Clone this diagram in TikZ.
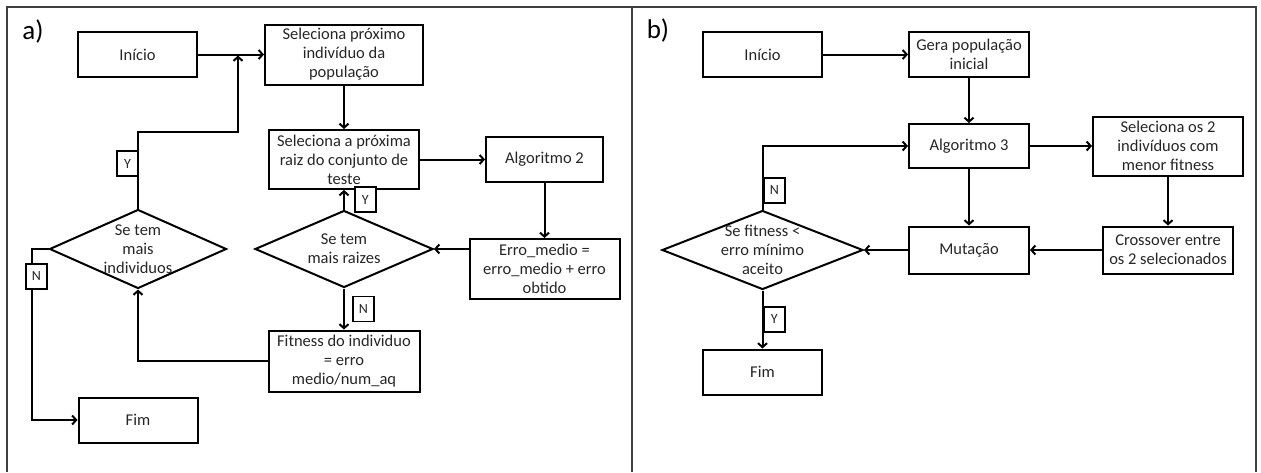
\documentclass[tikz,border=0pt]{standalone}
\usepackage{fontspec}
\setmainfont{Carlito}
\usetikzlibrary{shapes.geometric, arrows.meta, positioning}

\begin{document}
\begin{tikzpicture}[x=1pt, y=-1pt,
box/.style={rectangle, draw=black, line width=2pt, align=center, text=black!85,
font=\fontsize{16.5}{19}\selectfont, inner sep=2pt},
dec/.style={diamond, draw=black, line width=2pt, inner sep=0pt},
dec-text/.style={align=center, text=black!85, font=\fontsize{16.5}{19}\selectfont},
tag/.style={rectangle, draw=black, fill=white, line width=1.8pt, text=black!85,
font=\fontsize{14}{16}\selectfont, minimum width=21pt, minimum height=25pt, inner sep=1pt},
panel/.style={font=\fontsize{27}{30}\selectfont},
line/.style={draw, line width=2pt, -{Straight Barb[length=4pt,width=9pt]}},
frame/.style={draw=black!75, line width=1.2pt}
]
\useasboundingbox (0,0) rectangle (1261,472);

% frame
\draw[frame] (7,472) -- (7,7) -- (1256,7) -- (1256,472);
\draw[frame, line width=1.8pt] (632,7) -- (632,472);

% a)
\node [panel] (labA) at (33,31) {a)};
\node [box, minimum width=119pt, minimum height=45pt] (iniA) at (137.5,54.5) {Início};
\node [box, minimum width=158pt, minimum height=60pt, right of=iniA, node distance=206.5pt] (selInd)
{Seleciona próximo\\indivíduo da\\população};
\node [box, minimum width=150pt, minimum height=59pt, below of=selInd, node distance=105pt] (selRaiz)
{Seleciona a próxima\\raiz do conjunto de\\teste};
\node [box, minimum width=117pt, minimum height=45pt, right of=selRaiz, node distance=200.5pt] (alg2)
{Algoritmo 2};
\node [box, minimum width=150pt, minimum height=60pt, below of=alg2, node distance=109.5pt] (erro)
{Erro\_medio =\\erro\_medio + erro\\obtido};
\node [dec, minimum width=178pt, minimum height=77pt, below of=selRaiz, node distance=89.5pt,
label={[dec-text]center:Se tem\\mais raizes}] (decRaiz) {};
\node [box, minimum width=151pt, minimum height=61pt, below of=decRaiz, node distance=112pt] (fit)
{Fitness do individuo\\= erro\\medio/num\_aq};
\node [dec, minimum width=177pt, minimum height=79pt, left of=decRaiz, node distance=206pt,
label={[dec-text]center:Se tem\\mais\\individuos}] (decInd) {};
\node [box, minimum width=119pt, minimum height=45pt, below of=decInd, node distance=171pt] (fimA) {Fim};
\coordinate (joinA) at (238,55.5);

\path [line] (iniA) -- (selInd);
\path [line] (selInd) -- (selRaiz);
\path [line] (selRaiz) -- (alg2);
\path [line] (alg2) -- (erro);
\path [line] (erro.west |- decRaiz.east) -- (decRaiz.east);
\path [line] (decRaiz.north) -- node[tag, anchor=west, xshift=10pt] (tagYb) {Y} (selRaiz.south);
\path [line] (decRaiz.south) -- node[tag, anchor=west, xshift=8pt] (tagNb) {N} (fit.north);
\path [line] (fit.west) -| (decInd.south);
\path [line] (decInd.north) -- node[tag, pos=0.58, anchor=east, xshift=1pt] (tagYa) {Y} ++(0,-77) -| (joinA);
\path [line] (decInd.west) -- ++(-17,0) |- node[tag, pos=0.08, xshift=5pt] (tagNa) {N} (fimA.west);

% b)
\node [panel] (labB) at (658,30) {b)};
\node [box, minimum width=119pt, minimum height=45pt] (iniB) at (762.5,54.5) {Início};
\node [box, minimum width=120pt, minimum height=45pt, right of=iniB, node distance=206.5pt] (gera)
{Gera população\\inicial};
\node [box, minimum width=120pt, minimum height=44pt, below of=gera, node distance=91.5pt] (alg3)
{Algoritmo 3};
\node [box, minimum width=150pt, minimum height=59pt, right of=alg3, node distance=199pt] (selDois)
{Seleciona os 2\\indivíduos com\\menor fitness};
\node [box, minimum width=130pt, minimum height=47pt, below of=selDois, node distance=104pt] (cross)
{Crossover entre\\os 2 selecionados};
\node [box, minimum width=120pt, minimum height=47pt, left of=cross, node distance=199pt] (mut)
{Mutação};
\node [dec, minimum width=201pt, minimum height=79pt, left of=mut, node distance=206.5pt,
label={[dec-text]center:Se fitness <\\erro mínimo\\aceito}] (decFit) {};
\node [box, minimum width=119pt, minimum height=45pt, below of=decFit, node distance=122pt] (fimB) {Fim};

\path [line] (iniB) -- (gera);
\path [line] (gera) -- (alg3);
\path [line] (alg3) -- (selDois);
\path [line] (selDois) -- (cross);
\path [line] (cross) -- (mut);
\path [line] (alg3) -- (mut);
\path [line] (mut) -- (decFit.east);
\path [line] (decFit.north) |- node[tag, pos=0.15, anchor=west, xshift=0.5pt] (tagNc) {N} (alg3.west);
\path [line] (decFit.south) -- node[tag, anchor=west, xshift=0.5pt] (tagYc) {Y} (fimB.north);

\end{tikzpicture}
\end{document}
